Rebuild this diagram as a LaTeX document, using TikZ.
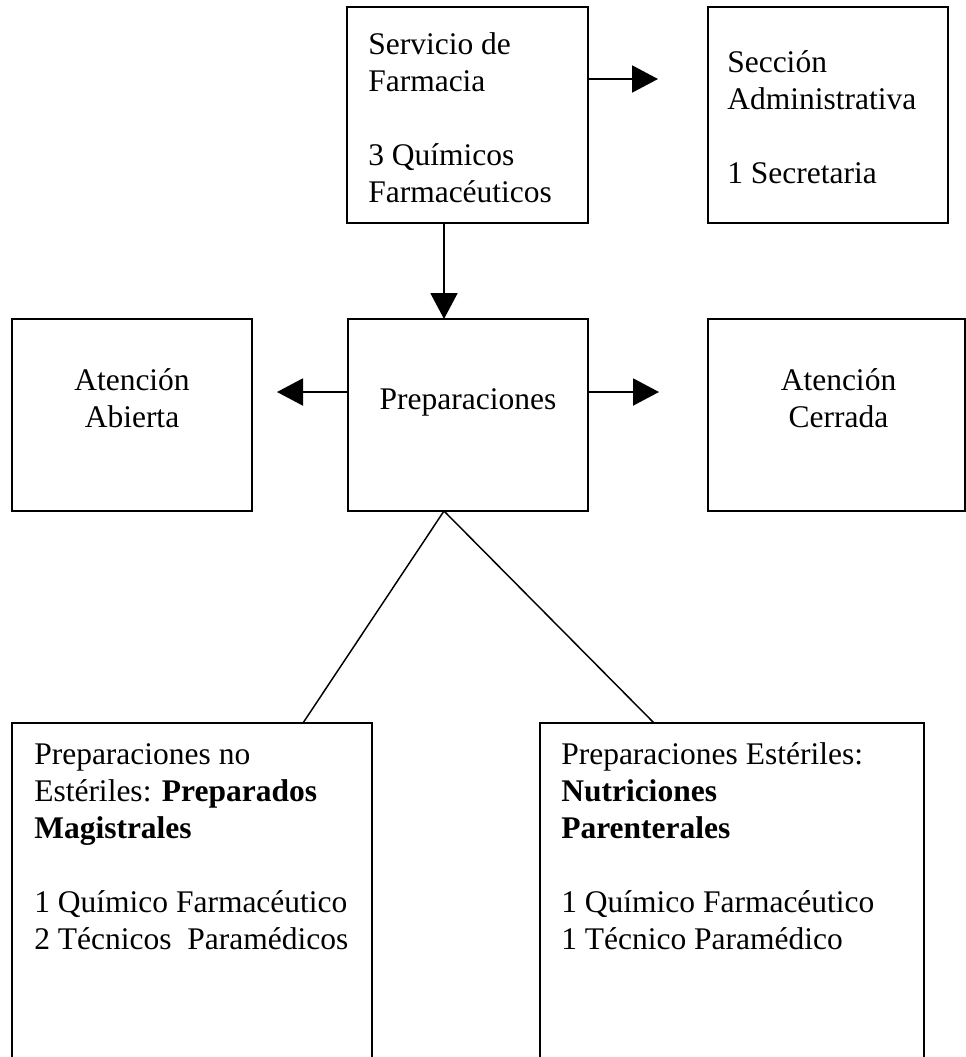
\documentclass[tikz,border=0pt]{standalone}
\usepackage{fontspec}
\setmainfont{Liberation Serif}
\usetikzlibrary{calc,positioning,arrows.meta}

\newcommand{\orgfont}{\fontsize{23.625pt}{27.75pt}\selectfont}
\newcommand{\orglines}[1]{\parbox[t]{12cm}{\raggedright #1}}
\newcommand{\orgcentre}[1]{\parbox[t]{6cm}{\centering #1}}

\tikzset{
  box/.style={draw, line width=1.5pt, inner sep=0pt, outer sep=0pt},
  txt/.style={inner sep=0pt, font=\orgfont},
  arr/.style={line width=1.5pt, -{Triangle[length=19.5pt,width=20.25pt]}},
  link/.style={line width=1.1pt},
}

\begin{document}
\begin{tikzpicture}[x=0.75pt,y=-0.75pt]
\clip (0,0) rectangle (966,1057);
% boxes
\node[box, minimum width=180.75pt, minimum height=162pt] (serv) at (467.5,115) {};
\node[box, minimum width=180pt, minimum height=162pt] (secc) at (828,115) {};
\node[box, minimum width=180pt, minimum height=144pt] (abierta) at (132,415) {};
\node[box, minimum width=180pt, minimum height=144pt] (prep) at (468,415) {};
\node[box, minimum width=192.75pt, minimum height=144pt] (cerrada) at (836.5,415) {};
\node[box, minimum width=270pt, minimum height=282.75pt] (magis) at (192,911.5) {};
\node[box, minimum width=288pt, minimum height=282.75pt] (parent) at (732,911.5) {};
% texts
\node[txt, anchor=base west] (serv-txt) at ($(serv.north west)+(21,47)$)
  {\orglines{Servicio de\\Farmacia\\[27.75pt]3 Químicos\\Farmacéuticos}};
\node[txt, anchor=base west] (secc-txt) at ($(secc.north west)+(19,65)$)
  {\orglines{Sección\\Administrativa\\[27.75pt]1 Secretaria}};
\node[txt, anchor=base] (abierta-txt) at ($(abierta.north)+(0,71)$)
  {\orgcentre{Atención\\Abierta}};
\node[txt, anchor=base] (prep-txt) at ($(prep.north)+(0,90)$)
  {\orgcentre{Preparaciones}};
\node[txt, anchor=base] (cerrada-txt) at ($(cerrada.north)+(2,71)$)
  {\orgcentre{Atención\\Cerrada}};
\node[txt, anchor=base west] (magis-txt) at ($(magis.north west)+(22,41)$)
  {\orglines{Preparaciones no\\Estériles: \textbf{Preparados}\\\textbf{Magistrales}\\[27.75pt]1 Químico Farmacéutico\\2 Técnicos\ \ Paramédicos}};
\node[txt, anchor=base west] (parent-txt) at ($(parent.north west)+(21,41)$)
  {\orglines{Preparaciones Estériles:\\\textbf{Nutriciones}\\\textbf{Parenterales}\\[27.75pt]1 Químico Farmacéutico\\1 Técnico Paramédico}};
% arrows
\draw[arr, shorten >=37.5pt] ($(serv.north east)+(0,72)$) -- ($(secc.north west)+(0,72)$);
\draw[arr] ($(serv.south west)+(97,0)$) -- ($(prep.north west)+(96,0)$);
\draw[arr, shorten >=18.75pt] ($(prep.west)+(0,-23)$) -- ($(abierta.east)+(0,-23)$);
\draw[arr, shorten >=36.75pt] ($(prep.east)+(0,-23)$) -- ($(cerrada.west)+(0,-23)$);
% branches
\coordinate (split) at ($(prep.south)+(-24,0)$);
\draw[link] (split) -- ($(magis.north west)+(291,0)$);
\draw[link] (split) -- ($(parent.north west)+(114,0)$);
\end{tikzpicture}
\end{document}
